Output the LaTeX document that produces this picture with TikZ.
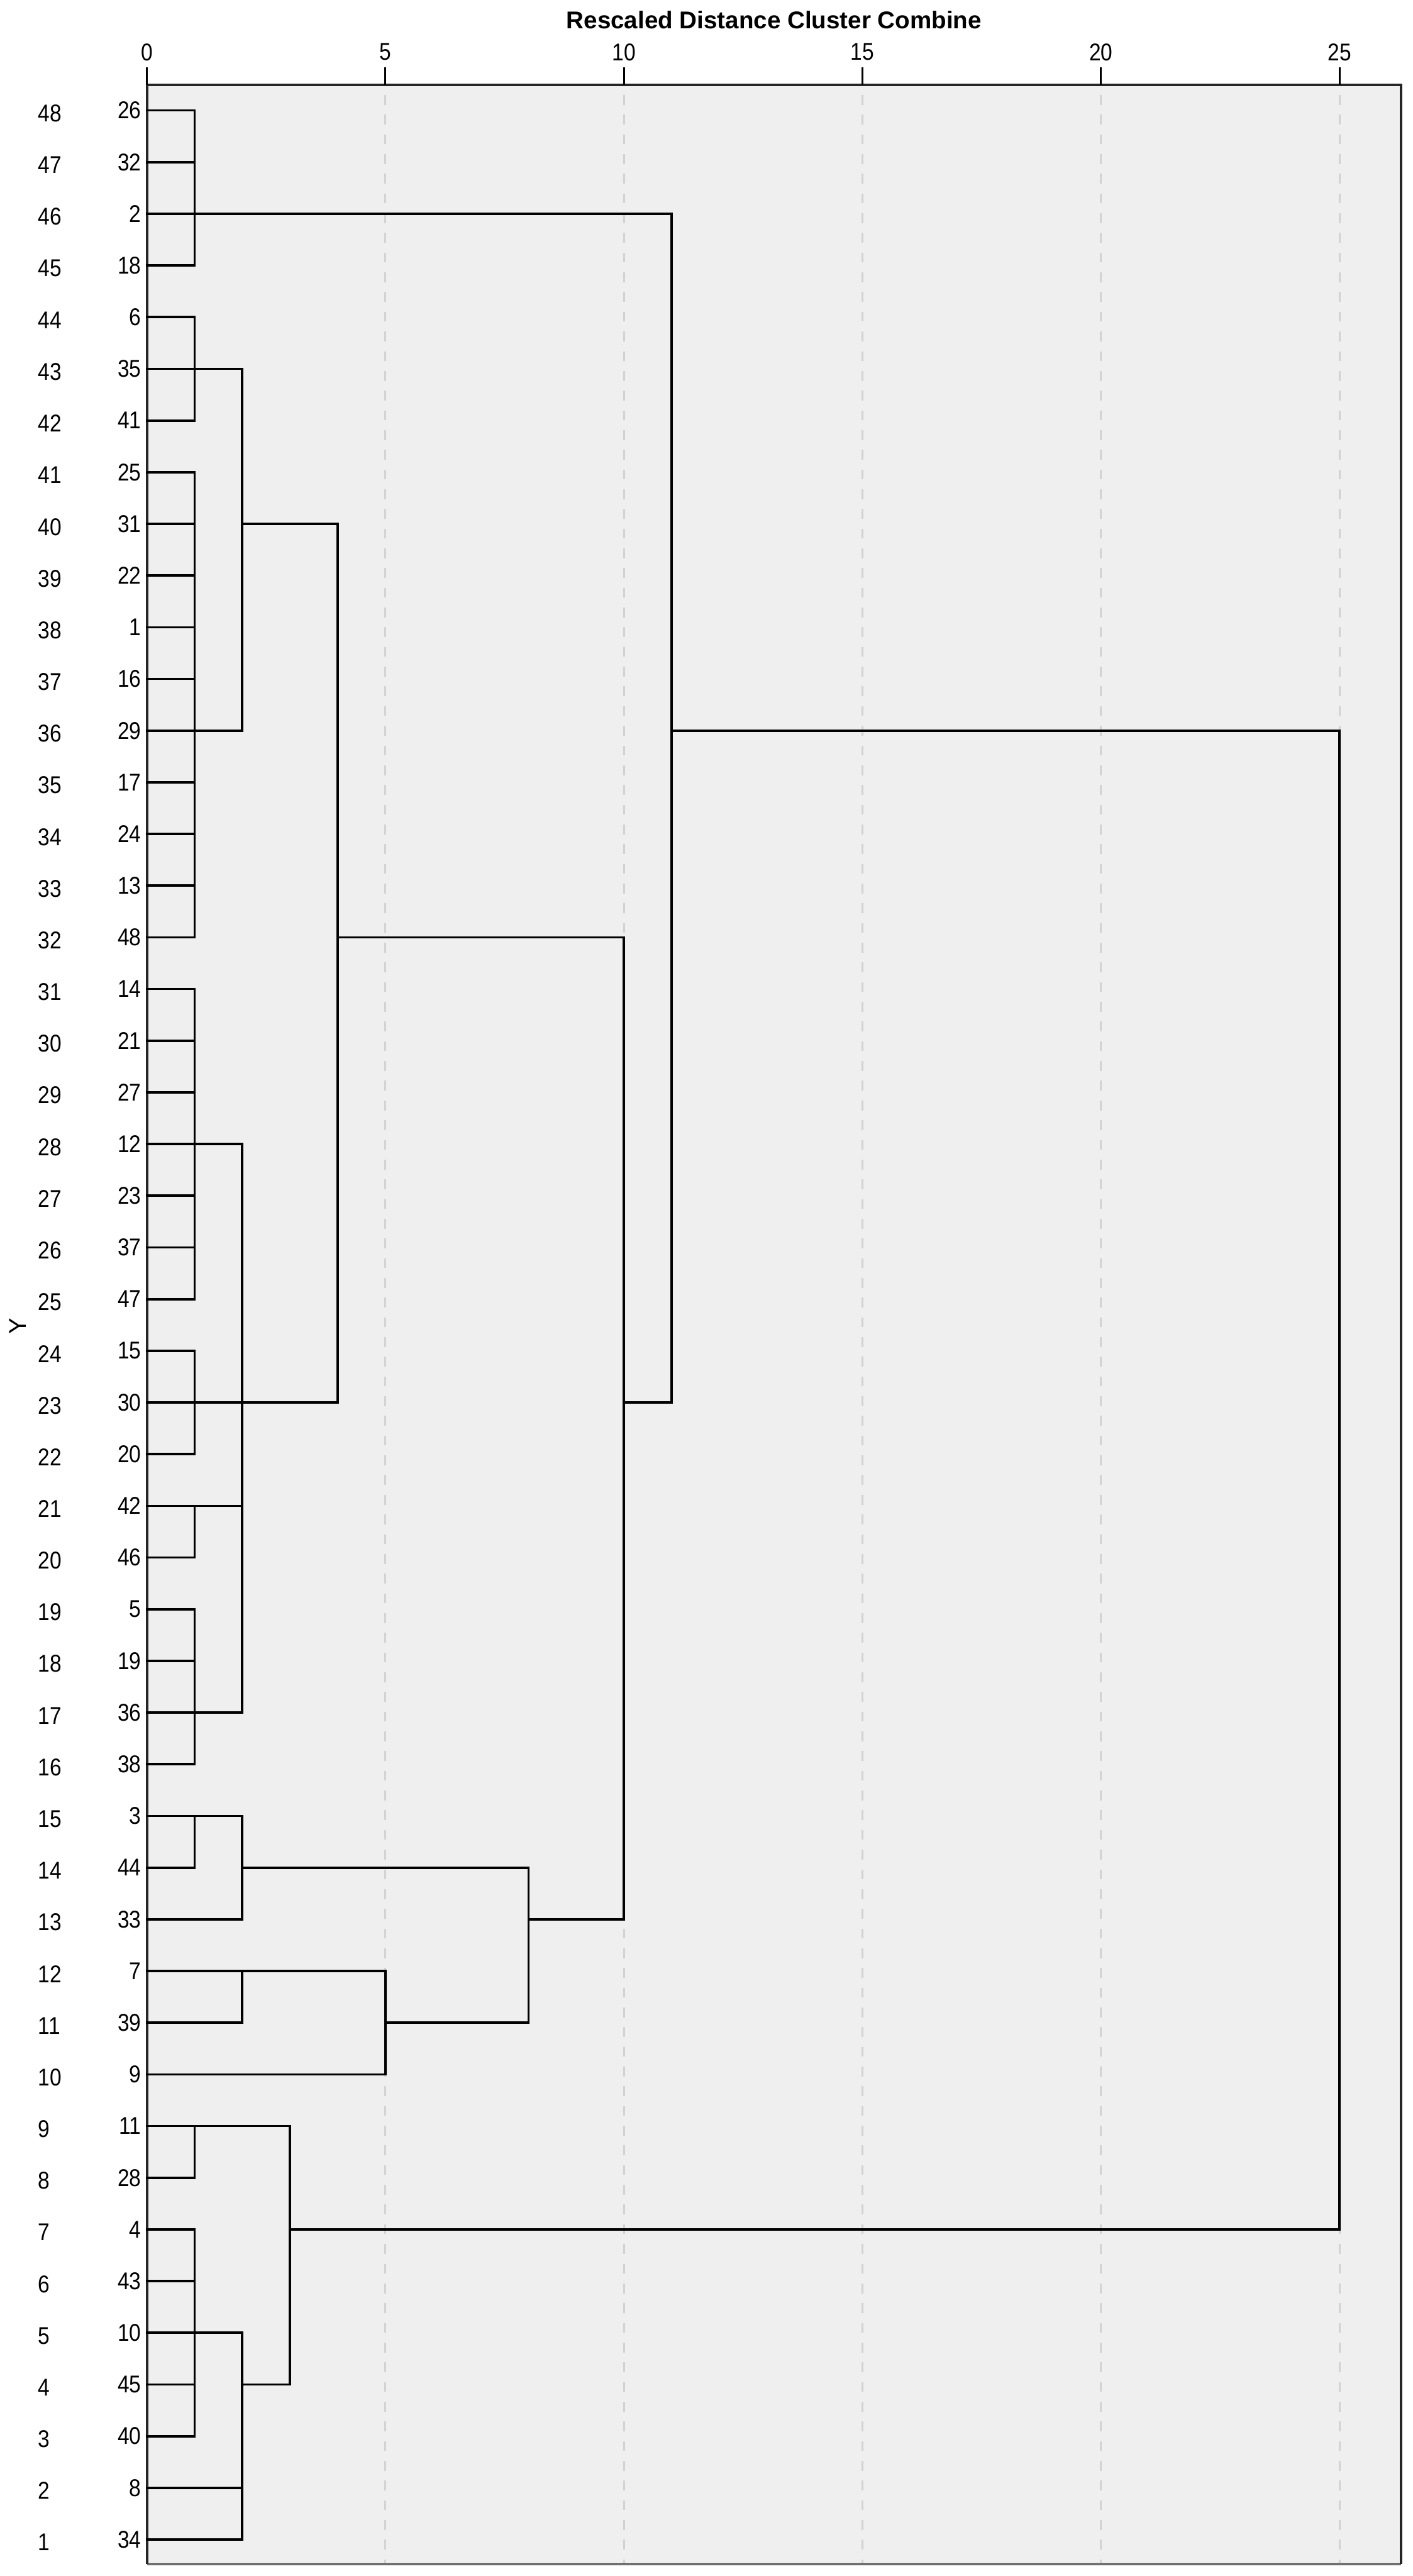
\documentclass[tikz,border=0pt]{standalone}
\usepackage{fontspec}
\setmainfont{Liberation Sans}
\usepackage{xcolor}
\usetikzlibrary{positioning,calc}

\definecolor{panelfill}{HTML}{EFEFEF}
\definecolor{gridgray}{HTML}{D2D2D2}
\definecolor{framegray}{HTML}{707070}
\newcommand{\numsize}{\fontsize{14}{16}\selectfont}

\begin{document}
\begin{tikzpicture}[
    leaf/.style={anchor=east, inner sep=0pt, font=\numsize, xscale=0.87},
    caseno/.style={anchor=west, inner sep=0pt, font=\numsize, xscale=0.87, yshift=-0.06cm},
    tickno/.style={inner sep=0pt, font=\numsize, xscale=0.87},
    link/.style={line width=1.35pt, line cap=rect},
    gridline/.style={gridgray, line width=1.1pt, dash pattern=on 0.2cm off 0.2cm},
    frame/.style={line width=1.5pt, black!85}]
    \useasboundingbox (0,0) rectangle (28.66,52.26);

    \begin{scope}[shift={(2.98cm,-0.3085cm)}, x=0.968cm, y=1.0485cm]
    % panel and grid
    \fill[panelfill] (0,0.523) rectangle (26.29,48.49);
    \foreach \t in {5,10,...,25}
        \draw[gridline] (\t,48.3) -- (\t,0.523);
    \draw[framegray, line width=1.5pt] (0,0.523) -- (26.29,0.523);
    \draw[frame] (0,0.523) -- (0,48.49) -- (26.29,48.49) -- (26.29,0.523);

    % axis
    \node[font=\numsize\bfseries] (title) at (13.145,49.75) {Rescaled Distance Cluster Combine};
    \foreach \t in {0,5,...,25} {
        \draw[line width=1.1pt] (\t,48.49) -- (\t,48.83);
        \node[tickno] (t\t) at (\t,49.13) {\t};
    }
    \node[rotate=90, font=\numsize] (ylab) at (-2.707,24.48) {Y};

    % merge levels
    \foreach \d in {1,2,3,4,5,8,10,11,25}
        \coordinate (d\d) at (\d,0);

    % leaves, bottom to top
    \foreach \lf [count=\i] in {34,8,40,45,10,43,4,28,11,9,39,7,33,44,3,38,36,19,5,46,42,20,30,15,
                                 47,37,23,12,27,21,14,48,13,24,17,29,16,1,22,31,25,41,35,6,18,2,32,26} {
        \node[caseno] (n\i) at (-2.283,\i) {\i};
        \node[leaf] (l\lf) at (-0.114,\i) {\lf};
        \coordinate (c\lf) at (0,\i);
    }

    % leaf lines
    \foreach \lf in {26,32,18,6,41,25,31,22,1,16,17,24,13,48,14,21,27,23,37,47,15,20,46,5,19,38,44,28,4,43,45,40}
        \draw[link] (c\lf) -- (c\lf -| d1);
    \foreach \lf in {35,29,12,42,36,3,33,39,10,8,34}
        \draw[link] (c\lf) -- (c\lf -| d2);
    \draw[link] (c30) -- (c30 -| d4);
    \draw[link] (c2) -- (c2 -| d11);
    \draw[link] (c7) -- (c7 -| d5);
    \draw[link] (c9) -- (c9 -| d5);
    \draw[link] (c11) -- (c11 -| d3);

    % vertical joins
    \foreach \a/\b/\d in {26/18/1, 6/41/1, 25/48/1, 14/47/1, 15/20/1, 42/46/1, 5/38/1, 3/44/1, 11/28/1, 4/40/1,
                          35/29/2, 12/36/2, 3/33/2, 7/39/2, 10/34/2,
                          11/45/3, 31/30/4, 7/9/5, 44/39/8, 48/33/10, 2/30/11, 29/4/25}
        \draw[link] (c\a -| d\d) -- (c\b -| d\d);

    % cluster lines
    \foreach \r/\p/\q in {31/2/4, 48/4/10, 44/2/8, 39/5/8, 33/8/10, 30/10/11, 29/11/25, 45/2/3, 4/3/25}
        \draw[link] (c\r -| d\p) -- (c\r -| d\q);
    \end{scope}
\end{tikzpicture}
\end{document}
